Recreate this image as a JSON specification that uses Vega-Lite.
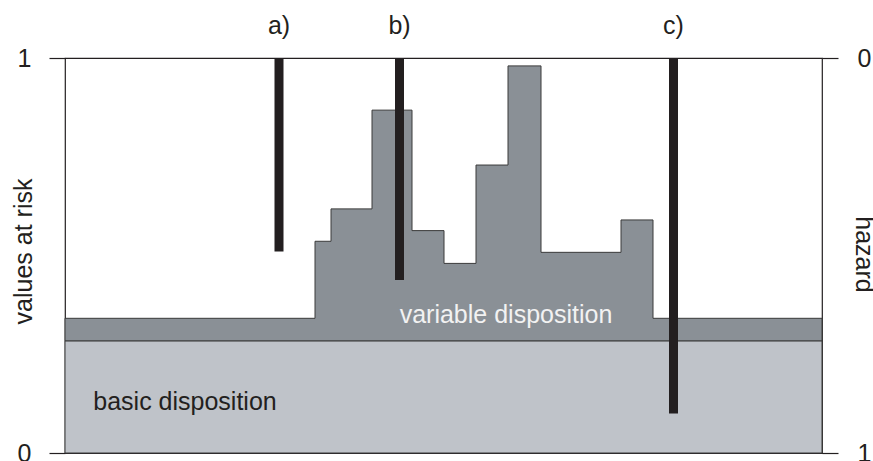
{
  "$schema": "https://vega.github.io/schema/vega-lite/v6.json",
  "width": 757,
  "height": 395,
  "autosize": "none",
  "padding": {"left": 65, "top": 58, "right": 51, "bottom": 8},
  "background": "white",
  "config": {
    "view": {"stroke": "#231f20", "strokeWidth": 1.2},
    "font": "Liberation Sans"
  },
  "datasets": {
    "variable": [
      {"t": 0, "v": 0.341},
      {"t": 250, "v": 0.536},
      {"t": 266, "v": 0.618},
      {"t": 307, "v": 0.868},
      {"t": 347, "v": 0.563},
      {"t": 379, "v": 0.48},
      {"t": 411, "v": 0.729},
      {"t": 443, "v": 0.98},
      {"t": 476, "v": 0.508},
      {"t": 556, "v": 0.59},
      {"t": 588, "v": 0.341},
      {"t": 757, "v": 0.341}
    ],
    "bars": [
      {"event": "a)", "t": 214, "top": 1, "bottom": 0.51},
      {"event": "b)", "t": 334.5, "top": 1, "bottom": 0.438},
      {"event": "c)", "t": 608.5, "top": 1, "bottom": 0.1}
    ],
    "basic": [{"t0": 0, "t1": 757, "v": 0.284}]
  },
  "resolve": {"axis": {"y": "independent"}},
  "layer": [
    {
      "data": {"name": "basic"},
      "mark": {"type": "rect", "fill": "#bfc3c9", "stroke": "#3a3a3a", "strokeWidth": 1},
      "encoding": {
        "x": {"field": "t0", "type": "quantitative", "scale": {"domain": [0, 757], "nice": false, "zero": false}, "axis": null},
        "x2": {"field": "t1"},
        "y": {
          "field": "v", "type": "quantitative",
          "scale": {"domain": [0, 1], "nice": false},
          "axis": {
            "orient": "left", "values": [0, 1], "domain": false, "grid": false,
            "labelExpr": "datum.value == 1 ? '1' : '0'",
            "tickSize": 16, "tickColor": "#231f20", "tickWidth": 1.2,
            "labelFontSize": 25, "labelPadding": 18, "labelColor": "#231f20",
            "labelBaseline": "middle",
            "title": "values at risk", "titleFontSize": 25, "titleFontWeight": "normal",
            "titleColor": "#231f20", "titleX": -42, "titleY": 193, "titleAngle": -90,
            "titleBaseline": "middle", "titleAlign": "center"
          }
        },
        "y2": {"datum": 0}
      }
    },
    {
      "data": {"name": "variable"},
      "mark": {"type": "area", "interpolate": "step-after", "fill": "#8a9096", "stroke": "#3a3a3a", "strokeWidth": 1, "opacity": 1},
      "encoding": {
        "x": {"field": "t", "type": "quantitative", "axis": null},
        "y": {"field": "v", "type": "quantitative", "axis": null},
        "y2": {"datum": 0.284}
      }
    },
    {
      "data": {"name": "bars"},
      "mark": {"type": "rule", "strokeWidth": 9, "color": "#231f20", "strokeCap": "butt"},
      "encoding": {
        "x": {"field": "t", "type": "quantitative", "axis": null},
        "y": {
          "field": "top", "type": "quantitative",
          "axis": {
            "orient": "right", "values": [0, 1], "domain": false, "grid": false,
            "labelExpr": "datum.value == 1 ? '0' : '1'",
            "tickSize": 16, "tickColor": "#231f20", "tickWidth": 1.2,
            "labelFontSize": 25, "labelPadding": 19, "labelColor": "#231f20",
            "labelBaseline": "middle",
            "title": "hazard", "titleFontSize": 25, "titleFontWeight": "normal",
            "titleColor": "#231f20", "titleX": 41, "titleY": 196, "titleAngle": 90,
            "titleBaseline": "middle", "titleAlign": "center"
          }
        },
        "y2": {"field": "bottom"}
      }
    },
    {
      "data": {"name": "bars"},
      "mark": {"type": "text", "fontSize": 25, "color": "#231f20", "baseline": "middle", "align": "center", "dy": -32},
      "encoding": {
        "x": {"field": "t", "type": "quantitative", "axis": null},
        "y": {"datum": 1, "axis": null},
        "text": {"field": "event"}
      }
    },
    {
      "data": {"values": [{"label": "variable disposition"}]},
      "mark": {"type": "text", "fontSize": 25, "color": "#f2f2f2", "baseline": "middle", "align": "center"},
      "encoding": {
        "x": {"datum": 441, "axis": null},
        "y": {"datum": 0.349, "axis": null},
        "text": {"field": "label"}
      }
    },
    {
      "data": {"values": [{"label": "basic disposition"}]},
      "mark": {"type": "text", "fontSize": 25, "color": "#231f20", "baseline": "middle", "align": "center"},
      "encoding": {
        "x": {"datum": 120, "axis": null},
        "y": {"datum": 0.13, "axis": null},
        "text": {"field": "label"}
      }
    }
  ]
}
